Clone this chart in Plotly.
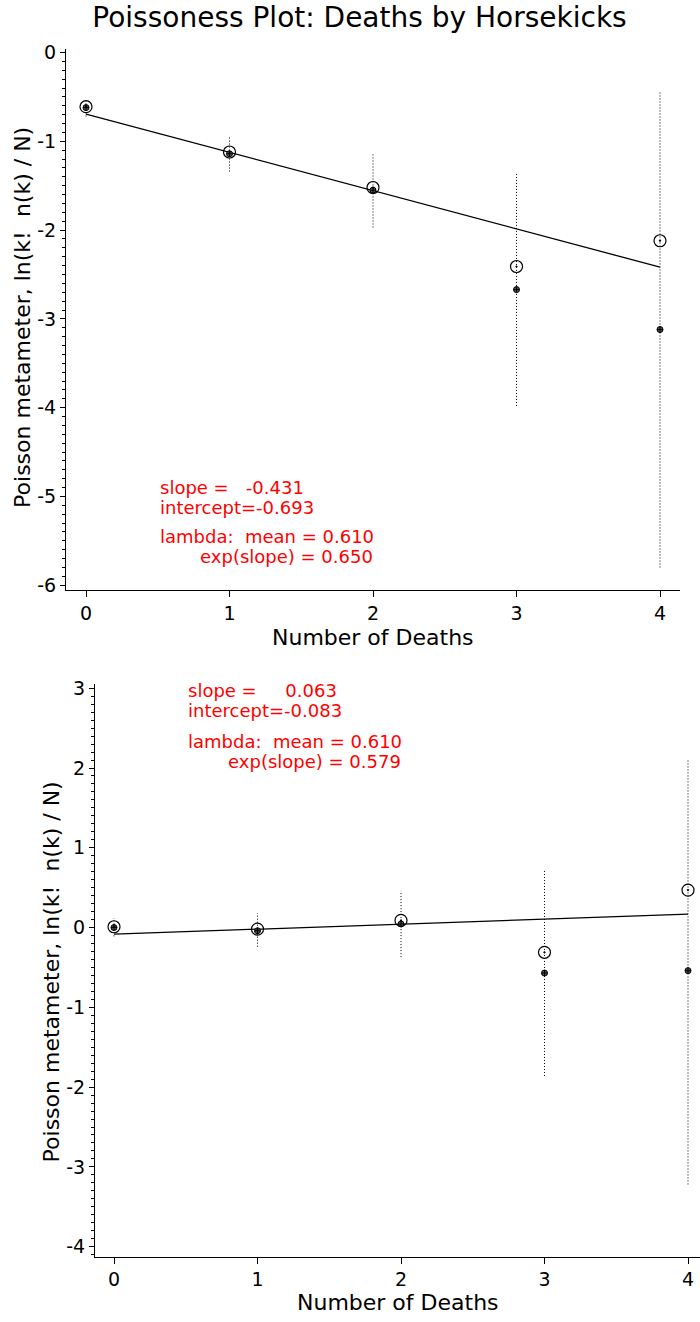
import plotly.graph_objects as go

# ---------------- data ----------------
k = [0, 1, 2, 3, 4]

# Top panel: Poissonness plot
top_obs = [-0.61, -1.12, -1.52, -2.41, -2.12]
top_lev = [-0.62, -1.14, -1.55, -2.67, -3.12]
top_ci_lo = [-0.72, -1.34, -1.97, -3.98, -5.80]
top_ci_hi = [-0.52, -0.94, -1.13, -1.36, -0.43]
top_slope = -0.431
top_intercept = -0.693

# Bottom panel
bot_obs = [0.01, -0.02, 0.09, -0.31, 0.47]
bot_lev = [0.00, -0.04, 0.045, -0.57, -0.54]
bot_ci_lo = [-0.11, -0.24, -0.37, -1.86, -3.22]
bot_ci_hi = [0.12, 0.18, 0.46, 0.72, 2.12]
bot_slope = 0.063
bot_intercept = -0.083

top_yticks = [0, -1, -2, -3, -4, -5, -6]
top_yticktext = ["0", "-1", "-2", "-3", "-4", "-5", "-6"]
bot_yticks = [3, 2, 1, 0, -1, -2, -3, -4]
bot_yticktext = ["3", "2", "1", "0", "-1", "-2", "-3", "-4"]
xticktext = ["0", "1", "2", "3", "4"]

title_text = "Poissoness Plot: Deaths by Horsekicks"
xtitle_text = "Number of Deaths"
ytitle_text = "Poisson metameter, ln(k!\u00a0\u00a0n(k) / N)"

top_lines = ["slope =\u00a0\u00a0\u00a0-0.431", "intercept=-0.693",
             "lambda:\u00a0\u00a0mean = 0.610",
             "\u00a0\u00a0\u00a0\u00a0\u00a0\u00a0\u00a0exp(slope) = 0.650"]
bot_lines = ["slope =\u00a0\u00a0\u00a0\u00a0\u00a00.063", "intercept=-0.083",
             "lambda:\u00a0\u00a0mean = 0.610",
             "\u00a0\u00a0\u00a0\u00a0\u00a0\u00a0\u00a0exp(slope) = 0.579"]

# ---------------- figure ----------------
W, H = 700, 1322
FONT = "DejaVu Sans"

def px_x(p):
    return p / W

def px_y(p):
    return 1 - p / H

fig = go.Figure()

def add_panel(xa, ya, obs, lev, lo, hi, slope, intercept):
    cx, cy = [], []
    for kk, a, b in zip(k, lo, hi):
        cx += [kk, kk, None]
        cy += [a, b, None]
    fig.add_trace(go.Scatter(x=cx, y=cy, mode="lines", xaxis=xa, yaxis=ya,
                             line=dict(color="black", width=1, dash="1px,2px"),
                             hoverinfo="skip", showlegend=False))
    lx = [min(k), max(k)]
    ly = [intercept + slope * v for v in lx]
    fig.add_trace(go.Scatter(x=lx, y=ly, mode="lines", xaxis=xa, yaxis=ya,
                             line=dict(color="black", width=1.3),
                             showlegend=False))
    fig.add_trace(go.Scatter(x=k, y=lev, mode="markers", xaxis=xa, yaxis=ya,
                             marker=dict(symbol="circle-cross", size=6, color="#555",
                                         line=dict(color="black", width=1)),
                             cliponaxis=False, showlegend=False))
    fig.add_trace(go.Scatter(x=k, y=obs, mode="markers", xaxis=xa, yaxis=ya,
                             marker=dict(symbol="circle-open-dot", size=12, color="black",
                                         line=dict(color="black", width=1.2)),
                             cliponaxis=False, showlegend=False))

add_panel("x", "y", top_obs, top_lev, top_ci_lo, top_ci_hi, top_slope, top_intercept)
add_panel("x2", "y2", bot_obs, bot_lev, bot_ci_lo, bot_ci_hi, bot_slope, bot_intercept)

tickfont = dict(family=FONT, size=19, color="black")

def xaxis_cfg(domain, rng, anchor):
    return dict(domain=domain, range=rng, anchor=anchor, showline=True, linecolor="black",
                linewidth=1, ticks="outside", ticklen=6, tickcolor="black", tickwidth=1,
                tickvals=k, ticktext=xticktext, tickfont=tickfont, showgrid=False,
                zeroline=False, fixedrange=True)

def yaxis_cfg(domain, rng, anchor, tv, tt):
    return dict(domain=domain, range=rng, anchor=anchor, showline=True, linecolor="black",
                linewidth=1, ticks="outside", ticklen=5, tickcolor="black", tickwidth=1,
                tickvals=tv, ticktext=tt, tickfont=tickfont, showgrid=False,
                zeroline=False, fixedrange=True,
                minor=dict(ticks="outside", ticklen=3, tickcolor="black", tickwidth=1,
                           tickmode="linear", tick0=0, dtick=0.1, showgrid=False))

# panel geometry (pixels)
fig.update_layout(
    xaxis=xaxis_cfg([px_x(66), px_x(680)], [-20 / 143.5, 4 + 20 / 143.5], "y"),
    yaxis=yaxis_cfg([px_y(589), px_y(42)], [-6 - 5 / 89.67, 4 / 89.67], "x",
                    top_yticks, top_yticktext),
    xaxis2=xaxis_cfg([px_x(95), 1.0], [-19 / 143.5, 4 + 12 / 143.5], "y2"),
    yaxis2=yaxis_cfg([px_y(1262), px_y(684)], [-4 - 10 / 80.57, 3 + 4 / 80.57], "x2",
                     bot_yticks, bot_yticktext),
)

annotations = []
# axis titles
annotations.append(dict(text=xtitle_text, x=px_x(373), y=px_y(637), xref="paper", yref="paper",
                        showarrow=False, xanchor="center", yanchor="middle",
                        font=dict(family=FONT, size=22, color="black")))
annotations.append(dict(text=xtitle_text, x=px_x(398), y=px_y(1308), xref="paper", yref="paper",
                        showarrow=False, xanchor="center", yanchor="middle",
                        font=dict(family=FONT, size=22, color="black")))
annotations.append(dict(text=ytitle_text, x=px_x(23), y=px_y(314), xref="paper", yref="paper",
                        showarrow=False, xanchor="center", yanchor="middle", textangle=-90,
                        font=dict(family=FONT, size=22, color="black")))
annotations.append(dict(text=ytitle_text, x=px_x(51), y=px_y(975), xref="paper", yref="paper",
                        showarrow=False, xanchor="center", yanchor="middle", textangle=-90,
                        font=dict(family=FONT, size=22, color="black")))

# statistics text
for lines, x0, ys in [(top_lines, 158, [485, 505, 535, 555]),
                      (bot_lines, 186, [690, 710, 742, 762])]:
    for txt, yy in zip(lines, ys):
        annotations.append(dict(text=txt, x=px_x(x0), y=px_y(yy), xref="paper", yref="paper",
                                showarrow=False, xanchor="left", yanchor="middle",
                                font=dict(family=FONT, size=18, color="#ff0000")))

fig.update_layout(
    width=W, height=H, autosize=False,
    margin=dict(l=0, r=0, t=0, b=0),
    paper_bgcolor="white", plot_bgcolor="white",
    font=dict(family=FONT, color="black"),
    title=dict(text=title_text, x=359.5 / W, xanchor="center", y=1 - 17 / H, yanchor="middle",
               yref="container", font=dict(family=FONT, size=28, color="black")),
    annotations=annotations,
    showlegend=False,
)

fig.write_html("out.html", config={"displayModeBar": False})
